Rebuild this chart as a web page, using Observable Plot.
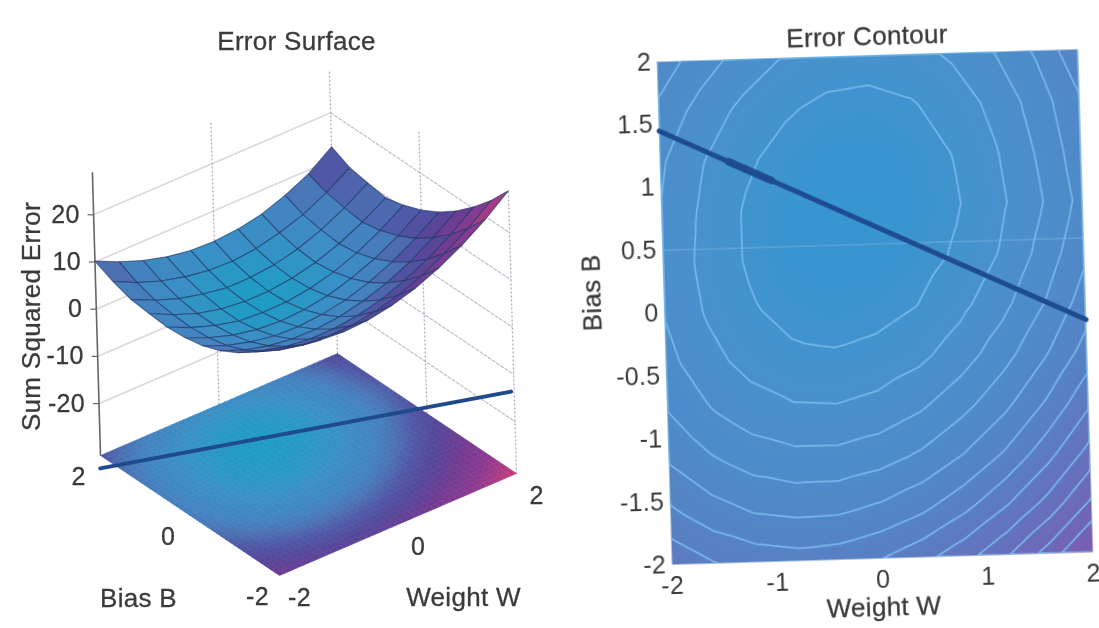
<!DOCTYPE html>
<html><head><meta charset="utf-8">
<script src="https://cdn.jsdelivr.net/npm/d3@7"></script>
<script src="https://cdn.jsdelivr.net/npm/@observablehq/plot@0.6"></script>
<style>
html,body{margin:0;padding:0;background:#fff;width:1099px;height:628px;overflow:hidden}
#left,#right{position:absolute;filter:blur(0.7px)}
#left{left:0;top:0;width:560px}
#right{left:574px;top:0;width:536px;transform:rotate(-1.7deg);transform-origin:300.5px 306.5px}
svg{display:block;background:transparent}
</style></head><body>
<div id="left"></div><div id="right"></div>
<script>
// Grid of the error surface
const weights=[-2,-1.6,-1.2,-0.8,-0.4,0,0.4,0.8,1.2,1.6,2];
const biases=[2,1.6,1.2,0.8,0.4,0,-0.4,-0.8,-1.2,-1.6,-2];
const sseB20=[10.2,7.9,6.0,4.6,3.8,3.6,4.0,5.0,6.8,9.2,12.8];
const sseB16=[8.4,6.0,4.2,2.9,2.1,1.9,2.4,3.6,5.3,7.8,10.9];
const sseB12=[7.1,4.8,3.0,1.8,1.0,1.0,1.5,2.7,4.6,7.1,10.2];
const sseB08=[6.7,4.3,2.4,1.2,0.6,0.6,1.2,2.4,4.2,6.6,9.6];
const sseB04=[6.4,4.1,2.4,1.2,0.8,0.9,1.6,2.9,4.8,7.4,10.6];
const sseB00=[6.7,4.5,2.9,1.9,1.5,1.8,2.6,4.1,6.1,8.8,12.1];
const sseBm04=[7.5,5.4,4.0,3.1,2.9,3.3,4.2,5.8,8.0,10.8,14.2];
const sseBm08=[9.0,7.0,5.7,5.0,4.9,5.4,6.5,8.2,10.5,13.5,17.0];
const sseBm12=[11.1,9.3,8.1,7.5,7.5,8.1,9.3,11.2,13.6,16.7,20.4];
const sseBm16=[13.8,12.1,11.0,10.6,10.7,11.5,12.8,14.8,17.4,20.5,24.3];
const sseBm20=[17.1,15.5,14.6,14.2,14.5,15.4,16.9,19.0,21.7,25.0,28.9];
const sseRows=[sseB20,sseB16,sseB12,sseB08,sseB04,sseB00,sseBm04,sseBm08,sseBm12,sseBm16,sseBm20];
const contourLevels=[2.6,4.7,6.8,8.9,11.1,13.3,15.4,17.5,19.7,21.8,24,26];
const zTicks=[20,10,0,-10,-20];
const floorWeightTicks=[-2,0,2];
const floorBiasTicks=[2,0,-2];
const boundaryFloorW=[-2.2,3.2];
const boundaryFloorB=[1.74,-0.29];
const boundaryW=[-2,2];
const boundaryB=[1.45,-0.15];
const boundaryThickW=[-1.35,-0.95];
const boundaryThickB=[1.19,1.03];
const contourXTicks=[-2,-1,0,1,2];
const contourYTicks=[2,1.5,1,0.5,0,-0.5,-1,-1.5,-2];

const fontStyle={fontFamily:"'Liberation Sans',Arial,sans-serif",fontSize:"25px",color:"#3a3a3a",background:"transparent",letterSpacing:"0.3px"};
const ink={fill:"#3a3a3a",stroke:"#3a3a3a",strokeWidth:0.3};

// 3-D view of the left panel
const zFloor=-31,zTop=29;
function project(w,b,z){
  return {
    x:279+(w+2)*59.25-(b+2)*44.75-(z-zFloor)*0.135,
    y:575-(w+2)*25.5-(b+2)*30-(z-zFloor)*4.72
  };
}
const surfaceColor={type:"linear",
  domain:[0.6,3,6,8,10,12.8,17,22,29],
  range:["#1f9cc4","#3a90c6","#4482c0","#4c70b2","#5058a6","#54489a","#6f3c92","#8c3a90","#cb3c78"]};

// surface cells, back to front
const surfaceCells=[];
const order=[];
for(let r=0;r<10;r++)for(let c=9;c>=0;c--)order.push([r,c]);
order.sort((p,q)=>(q[1]-q[0])-(p[1]-p[0]));
order.forEach(([r,c],n)=>{
  const ids=[[r,c],[r,c+1],[r+1,c+1],[r+1,c],[r,c]];
  const mean=(sseRows[r][c]+sseRows[r][c+1]+sseRows[r+1][c]+sseRows[r+1][c+1])/4;
  ids.forEach(([a,b])=>{
    const p=project(weights[b],biases[a],sseRows[a][b]);
    surfaceCells.push({id:n,x:p.x,y:p.y,e:mean});
  });
});
// floor: same values, shaded smoothly across each cell (display shading only)
const floorCells=[];
const sub=4;let fid=0;
for(let r=0;r<10;r++)for(let c=0;c<10;c++)for(let s=0;s<sub;s++)for(let t=0;t<sub;t++){
  const val=(u,v)=>(1-u)*(1-v)*sseRows[r][c]+u*(1-v)*sseRows[r][c+1]+(1-u)*v*sseRows[r+1][c]+u*v*sseRows[r+1][c+1];
  const e=val((s+.5)/sub,(t+.5)/sub);
  [[s,t],[s+1,t],[s+1,t+1],[s,t+1],[s,t]].forEach(([a,b])=>{
    const w=weights[c]+(weights[c+1]-weights[c])*a/sub;
    const bb=biases[r]+(biases[r+1]-biases[r])*b/sub;
    const p=project(w,bb,zFloor);
    floorCells.push({id:fid,x:p.x,y:p.y,e});
  });
  fid++;
}
// walls
const wallLines=[];let wid=0;
zTicks.forEach(z=>{
  const a=project(-2,2,z),b=project(2,2,z);
  wallLines.push({id:wid,x:a.x,y:a.y},{id:wid,x:b.x,y:b.y});wid++;
});
const wallRight=[];let wrid=0;
zTicks.forEach(z=>{
  const b=project(2,2,z),c=project(2,-2,z);
  wallRight.push({id:wrid,x:b.x,y:b.y},{id:wrid,x:c.x,y:c.y});wrid++;
});
const verticals=[];
[[0,2],[2,2],[2,0],[2,-2]].forEach(([w,b])=>{
  const p=project(w,b,zFloor),q=project(w,b,zTop);
  verticals.push({x1:p.x,y1:p.y,x2:q.x,y2:q.y});
});
const axisBase=project(-2,2,zFloor),axisTop=project(-2,2,zTop);
const zTickData=zTicks.map(z=>({z,...project(-2,2,z)}));
const biasTickData=floorBiasTicks.map(b=>({b,...project(-2,b,zFloor)}));
const weightTickData=floorWeightTicks.map(w=>({w,...project(w,-2,zFloor)}));
const floorLine=boundaryFloorW.map((w,i)=>project(w,boundaryFloorB[i],zFloor));

const left=Plot.plot({
  width:560,height:628,margin:0,
  x:{domain:[0,560],range:[0,560],axis:null},
  y:{domain:[0,628],range:[0,628],axis:null},
  color:surfaceColor,
  style:fontStyle,
  marks:[
    Plot.line(wallLines,{x:"x",y:"y",z:"id",stroke:"#dedbdd",strokeWidth:1.8}),
    Plot.line(wallRight,{x:"x",y:"y",z:"id",stroke:"#c0bfcb",strokeWidth:1.2,strokeDasharray:"3,2"}),
    Plot.link(verticals,{x1:"x1",y1:"y1",x2:"x2",y2:"y2",stroke:"#a9a9bb",strokeWidth:1.2,strokeDasharray:"2,2"}),
    Plot.link([0],{x1:()=>axisBase.x,y1:()=>axisBase.y,x2:()=>axisTop.x,y2:()=>axisTop.y,stroke:"#666",strokeWidth:1.6}),
    Plot.link(zTickData,{x1:"x",y1:"y",x2:d=>d.x-6,y2:"y",stroke:"#666",strokeWidth:1.2}),
    Plot.line(floorCells,{x:"x",y:"y",z:"id",fill:"e",stroke:"e",strokeWidth:0.6}),
    Plot.line(surfaceCells,{x:"x",y:"y",z:"id",fill:"e",stroke:"#1e3766",strokeWidth:1.1,strokeOpacity:0.65}),
    Plot.line(floorLine,{x:"x",y:"y",stroke:"#1f4a8c",strokeWidth:4}),
    Plot.text(zTickData,{x:"x",y:"y",text:d=>String(d.z),textAnchor:"end",dx:-14,...ink}),
    Plot.text(biasTickData,{x:"x",y:"y",text:d=>String(d.b),dx:-22,dy:21,...ink}),
    Plot.text(weightTickData,{x:"x",y:"y",text:d=>String(d.w),dx:20,dy:22,...ink}),
    Plot.text(["Error Surface"],{x:()=>296,y:()=>41,fontSize:26,...ink}),
    Plot.text(["Sum Squared Error"],{x:()=>31,y:()=>316,rotate:-90,fontSize:26,...ink}),
    Plot.text(["Bias B"],{x:()=>138,y:()=>598,fontSize:26,...ink}),
    Plot.text(["Weight W"],{x:()=>463,y:()=>597,fontSize:26,...ink})
  ]
});
document.getElementById("left").append(left);

// contour panel
const gridPoints=[];
biases.forEach((b,r)=>weights.forEach((w,c)=>gridPoints.push({w,b,e:sseRows[r][c]})));
const right=Plot.plot({
  width:536,height:628,marginLeft:90,marginRight:25,marginTop:55,marginBottom:70,
  x:{domain:[-2,2],axis:null},
  y:{domain:[-2,2],axis:null},
  color:{type:"linear",domain:[0.6,4,10,14,20,29],
    range:["#3795cf","#4892cd","#5089c8","#5682c5","#6572bd","#7a5cb0"]},
  style:fontStyle,
  marks:[
    Plot.raster(gridPoints,{x:"w",y:"b",fill:"e",interpolate:"barycentric"}),
    Plot.ruleY([0.5],{stroke:"#7fb8e6",strokeWidth:1,strokeOpacity:0.7}),
    Plot.contour(gridPoints,{x:"w",y:"b",value:"e",thresholds:contourLevels,interpolate:"barycentric",stroke:"#76b8ea",strokeWidth:1.7,pixelSize:2,x1:-2.1,x2:2.1,y1:-2.1,y2:2.1,clip:true}),
    Plot.line(boundaryW.map((w,i)=>({w,b:boundaryB[i]})),{x:"w",y:"b",stroke:"#1e4c90",strokeWidth:5}),
    Plot.line(boundaryThickW.map((w,i)=>({w,b:boundaryThickB[i]})),{x:"w",y:"b",stroke:"#1e4c90",strokeWidth:7.5}),
    Plot.axisX(contourXTicks,{tickSize:0,tickPadding:12,tickFormat:d=>String(d),label:null,...ink}),
    Plot.axisY(contourYTicks,{tickSize:0,tickPadding:6,tickFormat:d=>String(d),label:null,...ink}),
    Plot.text(["Weight W"],{frameAnchor:"bottom",dy:57,fontSize:26,...ink}),
    Plot.text(["Bias B"],{frameAnchor:"left",dx:-72,dy:16,rotate:-90,fontSize:26,...ink}),
    Plot.text(["Error Contour"],{frameAnchor:"top",dy:-29,fontSize:26,...ink})
  ]
});
document.getElementById("right").append(right);
</script>
</body></html>
